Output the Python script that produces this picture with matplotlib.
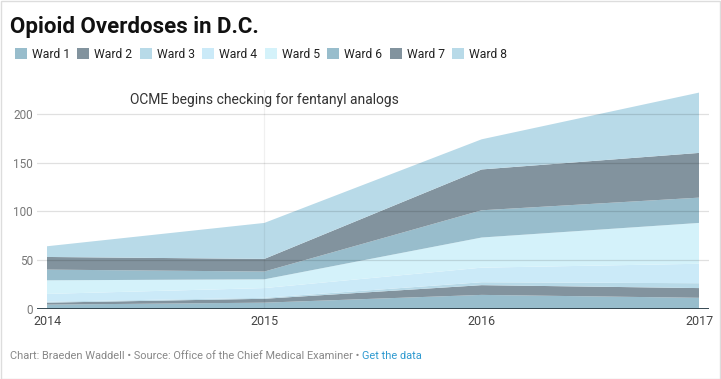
import matplotlib
matplotlib.use("Agg")
import matplotlib.pyplot as plt
from matplotlib.patches import Patch, Rectangle

plt.rcParams["font.family"] = ["Roboto", "DejaVu Sans"]

# Overdoses per ward
YEARS = [2014, 2015, 2016, 2017]
WARDS = ["Ward 1", "Ward 2", "Ward 3", "Ward 4", "Ward 5", "Ward 6", "Ward 7", "Ward 8"]
WARD_1 = [4, 6, 14, 11]
WARD_2 = [2, 4, 10, 10]
WARD_3 = [1, 1, 3, 5]
WARD_4 = [8, 10, 15, 20]
WARD_5 = [14, 9, 31, 42]
WARD_6 = [11, 8, 28, 26]
WARD_7 = [13, 13, 42, 46]
WARD_8 = [11, 37, 31, 62]
Y_TICKS = [0, 50, 100, 150, 200]
NOTE = "OCME begins checking for fentanyl analogs"
NOTE_YEAR = 2015

COLORS = ["#98bdcc", "#82939e", "#b8dae8", "#cbeaf8", "#d4f2fa",
          "#98bdcc", "#82939e", "#b8dae8"]

W, H = 721, 379
fig = plt.figure(figsize=(W / 100, H / 100), dpi=100)

# axes box in pixels: x 37..709, y 89.7..308.5 (from the top)
left, right, top, bottom = 37, 709, 89.7, 308.5
ax = fig.add_axes([left / W, 1 - bottom / H, (right - left) / W, (bottom - top) / H])

series = [WARD_1, WARD_2, WARD_3, WARD_4, WARD_5, WARD_6, WARD_7, WARD_8]
ax.stackplot(YEARS, *series, colors=COLORS, linewidth=0, labels=WARDS)

pad = 10 / ((right - left - 20) / 3)
ax.set_xlim(YEARS[0] - pad, YEARS[-1] + pad)
ax.set_ylim(0, 225)

for s in ax.spines.values():
    s.set_visible(False)

ax.set_xticks(YEARS)
ax.set_xticklabels([str(y) for y in YEARS])
ax.set_yticks(Y_TICKS)
ax.tick_params(axis="x", length=0, pad=5, labelsize=9, labelcolor="#444444")
ax.tick_params(axis="y", length=0, pad=3, labelsize=8.5, labelcolor="#777777")

for v in Y_TICKS[1:]:
    ax.axhline(v, color="black", alpha=0.12, lw=0.9, zorder=5)
ax.axhline(0, color="#263a44", lw=1.3, zorder=6)
ax.axvline(NOTE_YEAR, color="black", alpha=0.06, lw=0.9, zorder=5)

ax.text(NOTE_YEAR, 214, NOTE, ha="center", va="center", fontsize=10,
        color="#333333", zorder=7)

fig.text(10 / W, 1 - 27 / H, "Opioid Overdoses in D.C.", fontsize=16,
         fontweight="bold", va="center", ha="left", color="#111111")

handles = [Patch(facecolor=c, edgecolor="none") for c in COLORS]
fig.legend(handles, WARDS, loc="center left", bbox_to_anchor=(4 / W, 1 - 54 / H),
           ncol=8, frameon=False, fontsize=8.7, handlelength=1.0, handleheight=1.0,
           handletextpad=0.4, columnspacing=0.62, labelcolor="#222222")

credit = "Chart: Braeden Waddell \u2022 Source: Office of the Chief Medical Examiner \u2022 "
t = fig.text(10 / W, 1 - 356 / H, credit, fontsize=7.9, color="#888888",
             va="center", ha="left")
fig.canvas.draw()
bb = t.get_window_extent()
fig.text(bb.x1 / W, 1 - 356 / H, "Get the data", fontsize=7.9, color="#2f9ad0",
         va="center", ha="left")

fig.patches.append(Rectangle((0.5 / W, 0.5 / H), 1 - 1.5 / W, 1 - 1.5 / H,
                             transform=fig.transFigure, fill=False,
                             edgecolor="#dddddd", lw=1))

fig.savefig("out.png", dpi=100)
